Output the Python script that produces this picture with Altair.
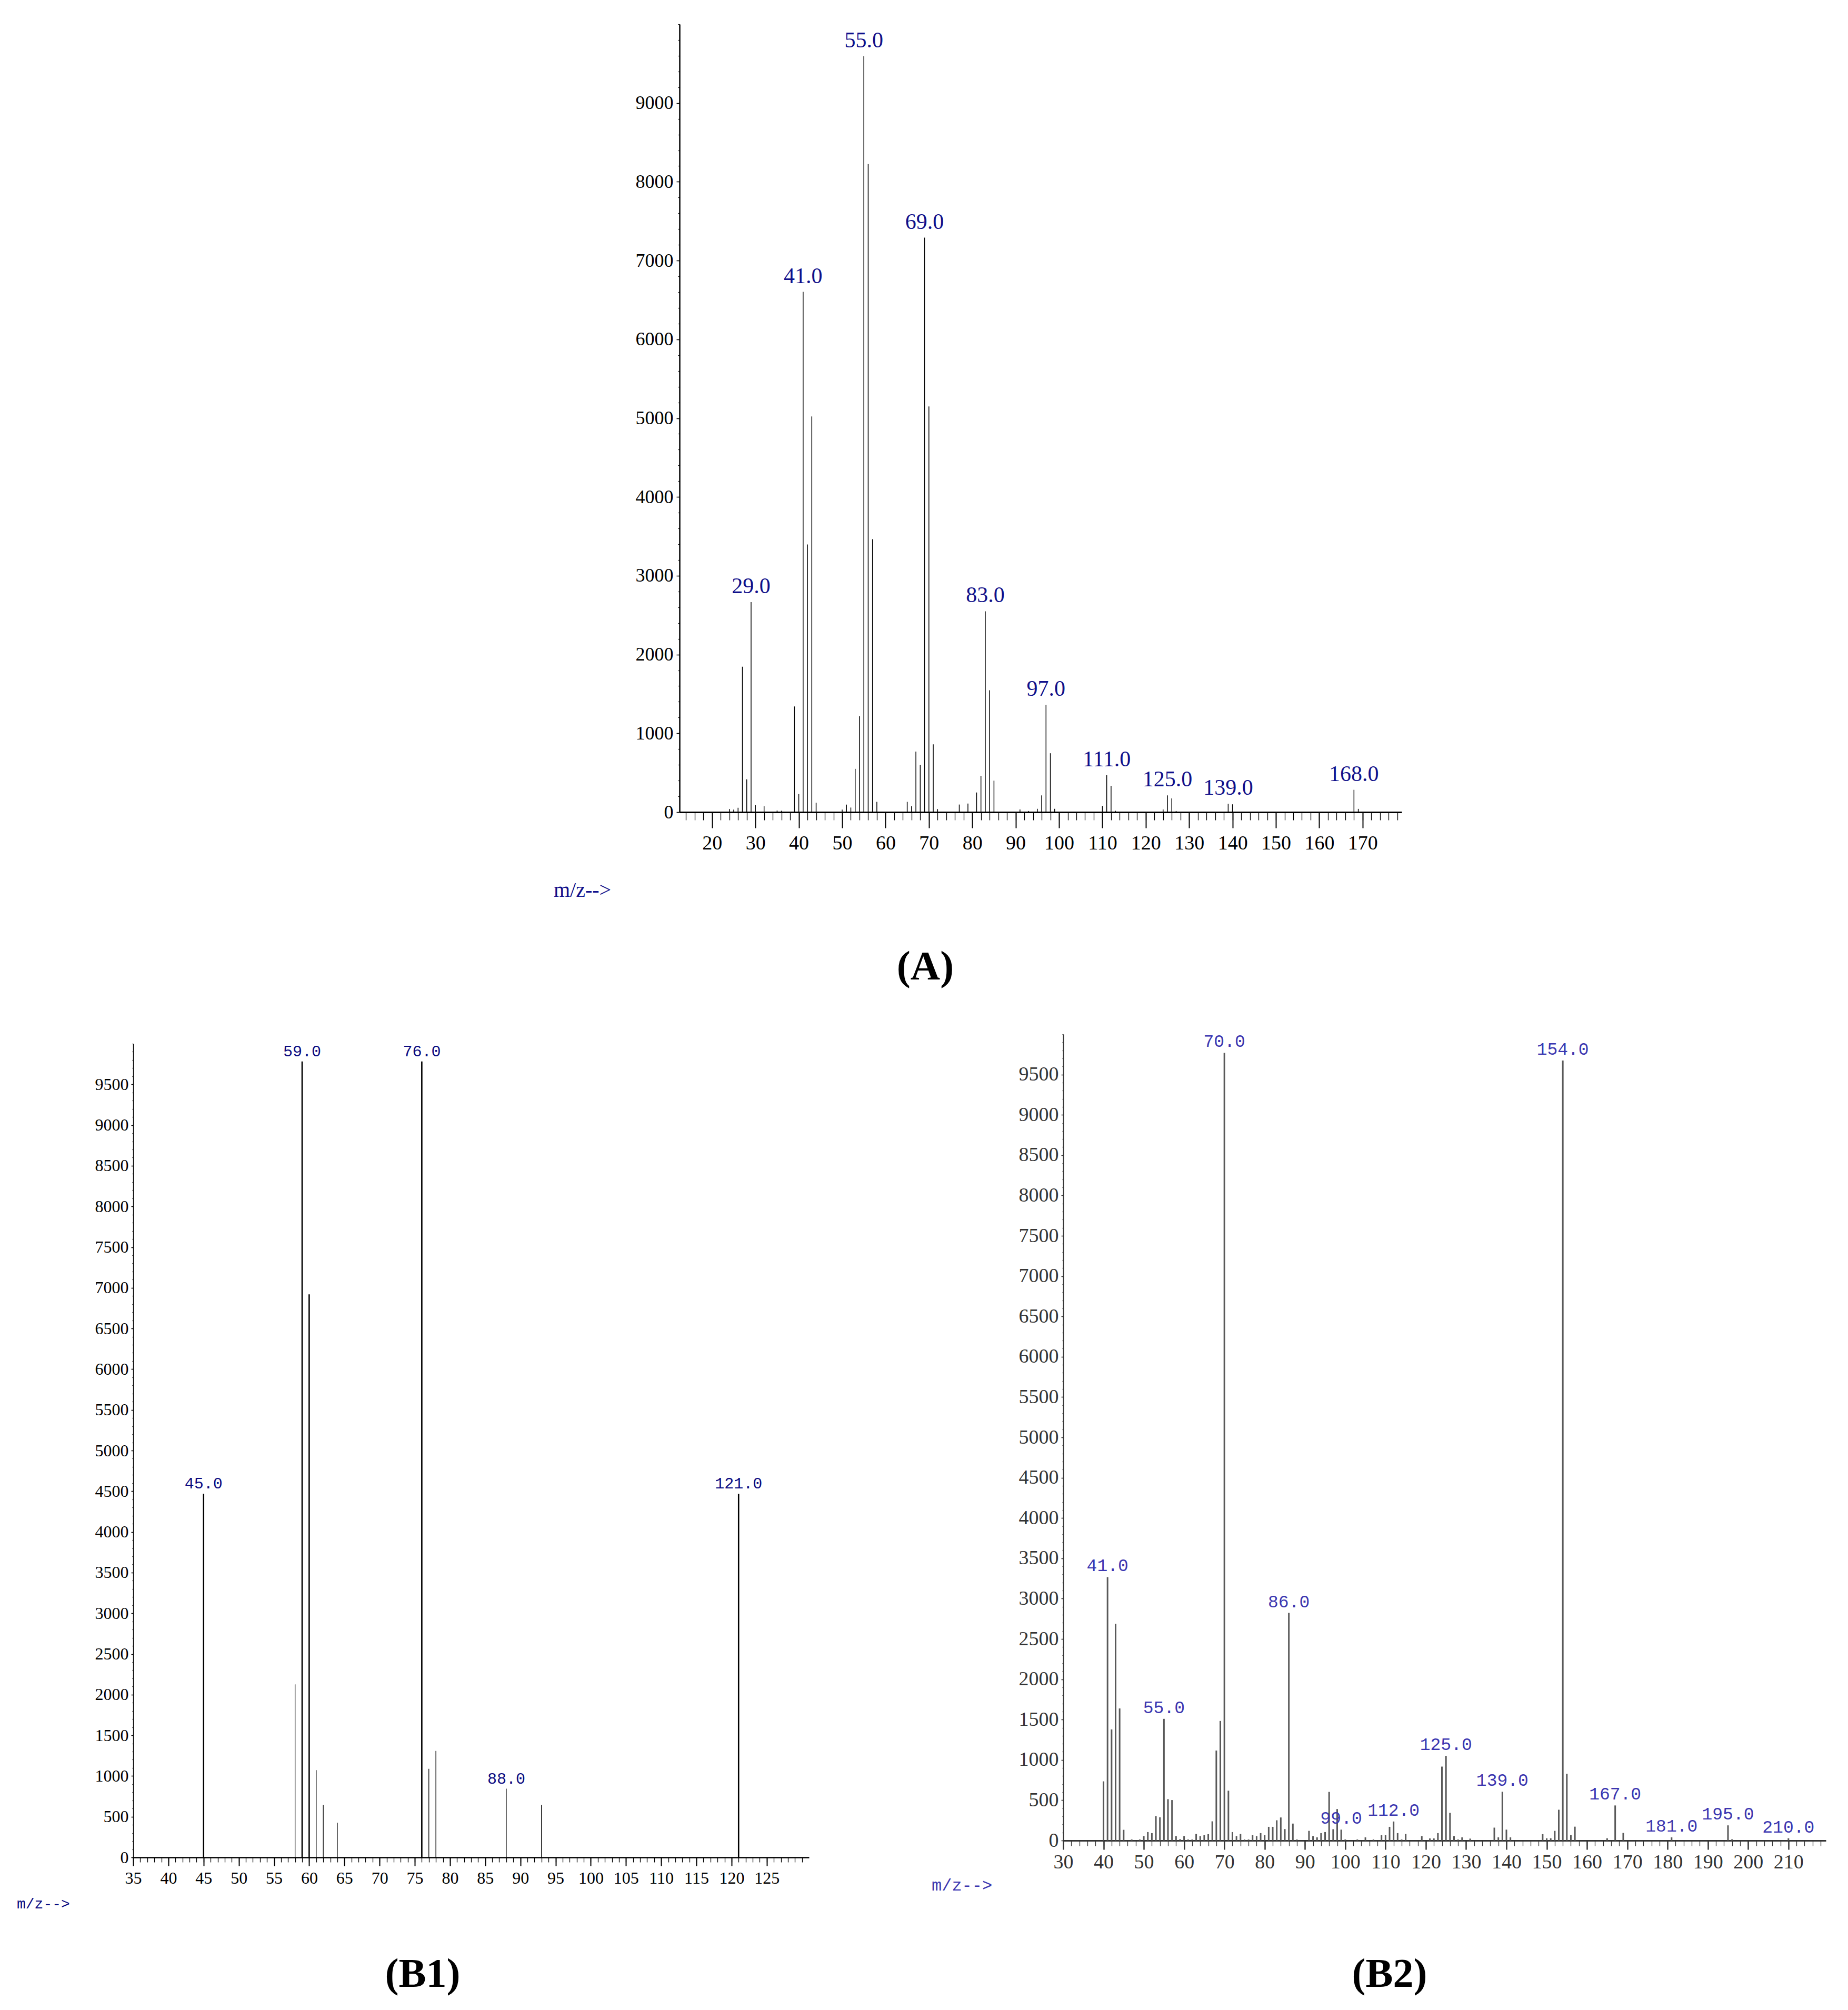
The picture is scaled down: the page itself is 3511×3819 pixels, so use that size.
import altair as alt
import pandas as pd

# ---------------- Panel A ----------------
a_mz = [24, 25, 26, 27, 28, 29, 30, 32, 35, 36, 39, 40, 41, 42, 43, 44, 50, 51, 52, 53,
        54, 55, 56, 57, 58, 65, 66, 67, 68, 69, 70, 71, 72, 77, 79, 81, 82, 83, 84, 85,
        91, 93, 95, 96, 97, 98, 99, 110, 111, 112, 113, 124, 125, 126, 127, 139, 140, 168, 169]
a_int = [38, 31, 55, 1846, 416, 2666, 89, 75, 20, 17, 1341, 229, 6603, 3396, 5022, 119, 31, 96, 58, 549,
         1218, 9594, 8225, 3464, 130, 130, 75, 768, 601, 7291, 5148, 860, 38, 96, 109, 249, 461, 2549, 1546, 399,
         34, 14, 41, 212, 1362, 747, 41, 78, 468, 334, 17, 34, 212, 174, 14, 106, 99, 283, 41]
a_labels = [29, 41, 55, 69, 83, 97, 111, 125, 139, 168]
a_xticks = list(range(20, 171, 10))
a_xminor = list(range(14, 179, 2))
a_yticks = list(range(0, 9001, 1000))
a_yminor = list(range(0, 10001, 200))

# ---------------- Panel B1 ----------------
b1_mz = [45, 58, 59, 60, 61, 62, 64, 76, 77, 78, 88, 93, 121]
b1_int = [4470, 2127, 9781, 6920, 1072, 646, 425, 9781, 1088, 1309, 844, 645, 4468]
b1_labels = [45, 59, 76, 88, 121]
b1_xticks = list(range(35, 126, 5))
b1_xminor = list(range(35, 131, 1))
b1_yticks = list(range(0, 9501, 500))
b1_yminor = list(range(0, 10001, 100))

# ---------------- Panel B2 ----------------
b2_mz = [40, 41, 42, 43, 44, 45, 47, 49, 50, 51, 52, 53, 54, 55, 56, 57, 58, 59, 60, 61,
         62, 63, 64, 65, 66, 67, 68, 69, 70, 71, 72, 73, 74, 75, 76, 77, 78, 79, 80, 81,
         82, 83, 84, 85, 86, 87, 88, 91, 92, 93, 94, 95, 96, 97, 98, 99, 100, 103, 105, 107,
         109, 110, 111, 112, 113, 114, 115, 119, 121, 122, 123, 124, 125, 126, 127, 128, 129, 131, 137, 138,
         139, 140, 141, 149, 150, 151, 152, 153, 154, 155, 156, 157, 165, 167, 169, 181, 195, 196, 210]
b2_int = [734, 3267, 1378, 2687, 1638, 133, 13, 13, 55, 105, 92, 303, 288, 1509, 513, 502, 55, 17, 55, 13,
          13, 81, 55, 66, 79, 238, 1116, 1483, 9769, 618, 105, 55, 81, 13, 13, 66, 55, 92, 66, 170,
          170, 251, 286, 142, 2823, 210, 13, 120, 55, 39, 92, 105, 603, 140, 390, 135, 13, 13, 39, 13,
          66, 66, 170, 236, 92, 13, 81, 55, 26, 26, 92, 917, 1050, 343, 55, 13, 39, 24, 160, 39,
          605, 135, 39, 79, 28, 28, 120, 382, 9674, 828, 68, 172, 28, 435, 94, 39, 188, 15, 28]
b2_labels = [41, 55, 70, 86, 99, 112, 125, 139, 154, 167, 181, 195, 210]
b2_xticks = list(range(30, 211, 10))
b2_xminor = list(range(30, 219, 2))
b2_yticks = list(range(0, 9501, 500))
b2_yminor = list(range(0, 10001, 100))

W, H = 3495, 3803


def axis(orient, offset, values, font, size, color, padding, tick, tickw, domw, labels=True, domain=True):
    kw = dict(orient=orient, offset=offset, values=values, grid=False, title=None,
              tickSize=tick, tickWidth=tickw, tickColor=color, domain=domain,
              labels=labels, labelFlush=False, labelOverlap=False, format="d")
    if domain:
        kw.update(domainColor=color, domainWidth=domw)
    if labels:
        kw.update(labelFont=font, labelFontSize=size, labelColor=color, labelPadding=padding)
    return alt.Axis(**kw)


def panel(mz, inten, labs, xdom, xrng, yrng, xt, xm, yt, ym, cfg):
    df = pd.DataFrame({"mz": mz, "intensity": inten})
    lab = df[df["mz"].isin(labs)]
    xs = alt.Scale(domain=xdom, range=xrng, nice=False, zero=False)
    ys = alt.Scale(domain=[0, 10000], range=yrng, nice=False, zero=False)
    xoff = yrng[0] - H
    yoff = -xrng[0]
    c = cfg
    if c["thick"]:
        sw = alt.condition("datum.intensity >= 4400", alt.value(c["sw_hi"]), alt.value(c["sw_lo"]))
    else:
        sw = alt.value(c["sw_lo"])
    bars = alt.Chart(df).mark_rule(color=c["rule"]).encode(
        x=alt.X("mz:Q", scale=xs,
                axis=axis("bottom", xoff, xt, c["afont"], c["xsize"], c["acolor"], c["xpad"],
                          c["xtick"], c["xtickw"], c["xdomw"])),
        y=alt.Y("intensity:Q", scale=ys,
                axis=axis("left", yoff, yt, c["afont"], c["ysize"], c["acolor"], c["ypad"],
                          c["ytick"], 1.5, c["ydomw"])),
        y2=alt.datum(0),
        strokeWidth=sw,
    )
    texts = alt.Chart(lab).mark_text(
        font=c["lfont"], fontSize=c["lsize"], color=c["lcolor"], baseline="bottom",
        align="center", dy=-c["ldy"]
    ).encode(
        x=alt.X("mz:Q", scale=xs,
                axis=axis("bottom", xoff, xm, "", 10, c["acolor"], 0, c["xmtick"], 1.3, 1,
                          labels=False, domain=False)),
        y=alt.Y("intensity:Q", scale=ys,
                axis=axis("left", yoff, ym, "", 10, c["acolor"], 0, c["ymtick"], 1.2, 1,
                          labels=False, domain=False)),
        text=alt.Text("mz:Q", format=".1f"),
    )
    return [bars, texts]


cfgA = dict(rule="#000000", thick=False, sw_lo=1.5, sw_hi=1.5, afont="Liberation Serif",
            acolor="#000000", xsize=38, ysize=36, xpad=10, ypad=6, xtick=30, xtickw=2,
            xdomw=3, ytick=6, ydomw=2.5, xmtick=15, ymtick=3,
            lfont="Liberation Serif", lsize=42, lcolor="#10108a", ldy=8)
cfgB1 = dict(rule="#000000", thick=True, sw_lo=1.3, sw_hi=2.6, afont="Liberation Serif",
             acolor="#000000", xsize=32, ysize=32, xpad=8, ypad=5, xtick=16, xtickw=2,
             xdomw=2.5, ytick=4, ydomw=1.5, xmtick=9, ymtick=2,
             lfont="Liberation Mono", lsize=30, lcolor="#0a0a80", ldy=4)
cfgB2 = dict(rule="#595959", thick=False, sw_lo=3, sw_hi=3, afont="Liberation Serif",
             acolor="#333333", xsize=38, ysize=38, xpad=5, ypad=5, xtick=17, xtickw=2.5,
             xdomw=3, ytick=4, ydomw=2, xmtick=10, ymtick=2,
             lfont="Liberation Mono", lsize=33, lcolor="#3b36b0", ldy=4)

layers = []
layers += panel(a_mz, a_int, a_labels, [12.5, 179], [1283, 2655], [1535, 38],
                a_xticks, a_xminor, a_yticks, a_yminor, cfgA)
layers += panel(b1_mz, b1_int, b1_labels, [35, 131], [245, 1529], [3521, 1975],
                b1_xticks, b1_xminor, b1_yticks, b1_yminor, cfgB1)
layers += panel(b2_mz, b2_int, b2_labels, [30, 219.3], [2012, 3461], [3489, 1957],
                b2_xticks, b2_xminor, b2_yticks, b2_yminor, cfgB2)

one = pd.DataFrame({"k": [0]})


def caption(txt, x, y, font, size, color, weight="normal", align="left"):
    return alt.Chart(one).mark_text(
        text=txt, font=font, fontSize=size, color=color, fontWeight=weight,
        align=align, baseline="middle"
    ).encode(x=alt.value(x), y=alt.value(y))


layers += [
    caption("m/z-->", 1044, 1684, "Liberation Serif", 40, "#10108a"),
    caption("m/z-->", 24, 3610, "Liberation Mono", 28, "#0a0a80"),
    caption("m/z-->", 1762, 3574, "Liberation Mono", 32, "#3b36b0"),
    caption("(A)", 1750, 1830, "Liberation Serif", 78, "#000000", "bold", "center"),
    caption("(B1)", 795, 3744, "Liberation Serif", 78, "#000000", "bold", "center"),
    caption("(B2)", 2632, 3744, "Liberation Serif", 78, "#000000", "bold", "center"),
]

chart = alt.layer(*layers).resolve_scale(
    x="independent", y="independent"
).properties(
    width=W, height=H,
    autosize=alt.AutoSizeParams(type="none"),
    padding={"left": 0, "top": 0, "right": 0, "bottom": 0},
    background="white",
).configure_view(strokeWidth=0)

chart.save("out.html", embed_options={"renderer": "svg", "actions": False})
